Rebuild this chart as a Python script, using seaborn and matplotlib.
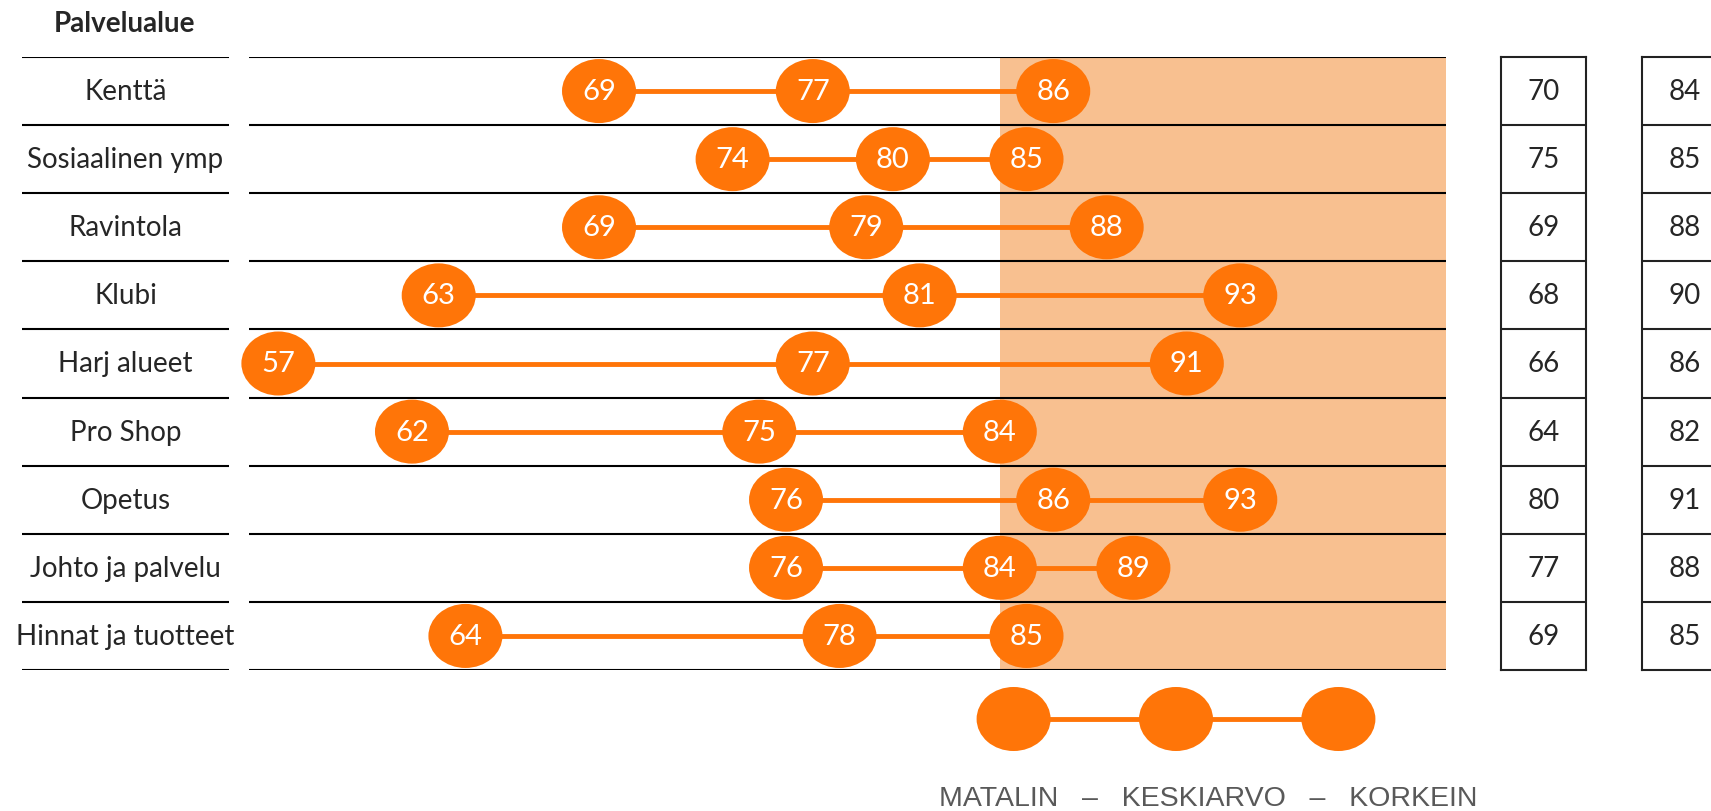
import numpy as np
import pandas as pd
import matplotlib
matplotlib.use('Agg')
import matplotlib.pyplot as plt
from matplotlib.path import Path
from matplotlib.transforms import Affine2D
import seaborn as sns

# data
areas = ['Kenttä', 'Sosiaalinen ymp', 'Ravintola', 'Klubi', 'Harj alueet',
         'Pro Shop', 'Opetus', 'Johto ja palvelu', 'Hinnat ja tuotteet']
lowest = [69, 74, 69, 63, 57, 62, 76, 76, 64]
average = [77, 80, 79, 81, 77, 75, 86, 84, 78]
highest = [86, 85, 88, 93, 91, 84, 93, 89, 85]
col1_values = [70, 75, 69, 68, 66, 64, 80, 77, 69]
col2_values = [84, 85, 88, 90, 86, 82, 91, 88, 85]
target_level = 84
legend_labels = ['MATALIN', 'KESKIARVO', 'KORKEIN']

ORANGE = '#FF7508'
SHADE = '#F8C090'
W, H = 1711, 812
TOP, BOTTOM = 58, 671
XLIM = (55.9, 100.7)


def rect(x0, x1, y0=TOP, y1=BOTTOM):
    # pixel box -> figure fraction
    return [x0 / W, 1 - y1 / H, (x1 - x0) / W, (y1 - y0) / H]


sns.set_style('white')
plt.rcParams['font.family'] = ['Lato', 'DejaVu Sans']

df = pd.DataFrame({'area': areas, 'row': range(len(areas)),
                   'low': lowest, 'mean': average, 'high': highest})
long = df.melt(id_vars=['area', 'row'], value_vars=['low', 'mean', 'high'],
               var_name='stat', value_name='value')

ellipse = Path.unit_circle().transformed(Affine2D().scale(1.0, 0.865))
ylim = (len(areas) - 0.5, -0.5)
bounds = np.arange(-0.5, len(areas))

fig = plt.figure(figsize=(W / 100, H / 100), dpi=100)

# main dumbbell panel
ax = fig.add_axes(rect(249, 1446))
ax.axvspan(target_level, XLIM[1], color=SHADE, lw=0, zorder=0)
for b in bounds:
    ax.axhline(b, color='black', lw=1.5, zorder=1)
sns.lineplot(data=long, x='value', y='row', units='area', estimator=None,
             sort=True, color=ORANGE, lw=3.5, ax=ax, zorder=2)
sns.scatterplot(data=long, x='value', y='row', marker=ellipse, s=2840,
                color=ORANGE, edgecolor='none', linewidth=0, ax=ax,
                zorder=3, legend=False, clip_on=False)
for _, r in long.iterrows():
    ax.text(r['value'], r['row'], str(int(r['value'])), color='white',
            ha='center', va='center', fontsize=21, zorder=4)
ax.set_xlim(*XLIM)
ax.set_ylim(*ylim)
ax.set_axis_off()

# row labels
lab = fig.add_axes(rect(22, 229))
for b in bounds:
    lab.axhline(b, color='black', lw=1.5)
for i, name in enumerate(areas):
    lab.text(0.5, i, name, ha='center', va='center', fontsize=20)
lab.set_xlim(0, 1)
lab.set_ylim(*ylim)
lab.set_axis_off()
fig.text(125 / W, 1 - 24 / H, 'Palvelualue', ha='center', va='center',
         fontsize=20, fontweight='bold')

# boxed value columns on the right
for x0, vals in [(1501, col1_values), (1642, col2_values)]:
    tab = fig.add_axes(rect(x0, x0 + 85))
    for b in bounds[1:-1]:
        tab.axhline(b, color='#222222', lw=1.5)
    for i, v in enumerate(vals):
        tab.text(0.5, i, str(v), ha='center', va='center', fontsize=20)
    tab.set_xlim(0, 1)
    tab.set_ylim(*ylim)
    tab.set_xticks([])
    tab.set_yticks([])
    for s in tab.spines.values():
        s.set_color('#222222')
        s.set_linewidth(1.5)

# key below the chart
key = fig.add_axes(rect(973, 1379, 680, 760))
key_pos = list(range(len(legend_labels)))
sns.lineplot(x=key_pos, y=[0] * len(key_pos), color=ORANGE, lw=3.5, ax=key)
sns.scatterplot(x=key_pos, y=[0] * len(key_pos), marker=ellipse, s=2840,
                color=ORANGE, edgecolor='none', linewidth=0, ax=key, zorder=3)
key.set_xlim(-0.25, 2.25)
key.set_ylim(-1, 1)
key.set_axis_off()
fig.text(1208 / W, 1 - 799 / H, '   –   '.join(legend_labels),
         family='Liberation Sans', fontsize=20.5, color='#595959',
         ha='center', va='center')

fig.savefig('out.png', dpi=100)
